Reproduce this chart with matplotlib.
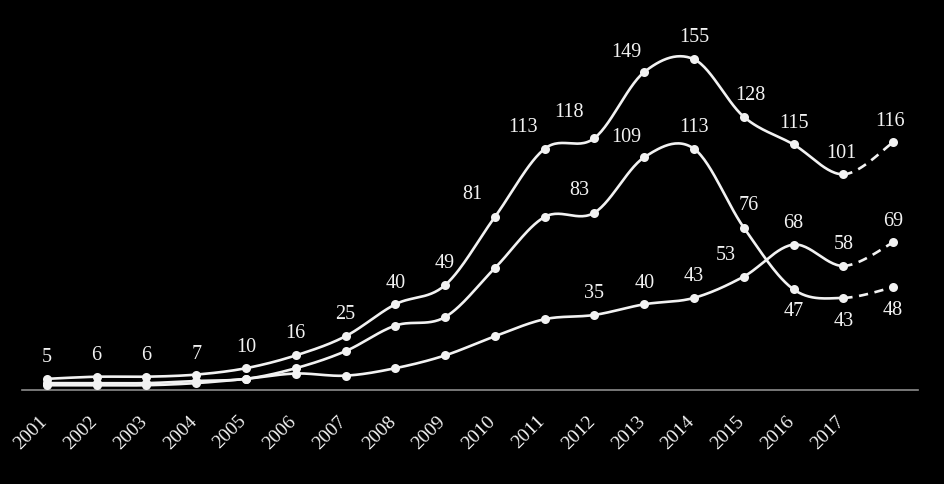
import numpy as np
import matplotlib
matplotlib.use('Agg')
import matplotlib.pyplot as plt
import matplotlib.transforms as mtransforms

# Données (2001 -> 2018, dernière année sans étiquette)
annees = list(range(2001, 2019))
etiquettes_x = [str(a) for a in range(2001, 2018)]

serie_haut = [5, 6, 6, 7, 10, 16, 25, 40, 49, 81, 113, 118, 149, 155, 128, 115, 101, 116]
serie_milieu = [3, 3, 3, 4, 5, 10, 18, 30, 34, 57, 81, 83, 109, 113, 76, 47, 43, 48]
serie_bas = [2, 2, 2, 3, 5, 7.5, 6.5, 10, 16, 25, 33, 35, 40, 43, 53, 68, 58, 69]

# indices des points étiquetés pour les deux séries du bas
etiq_milieu = [11, 12, 13, 14, 15, 16, 17]
etiq_bas = [11, 12, 13, 14, 15, 16, 17]

BLANC = '#f2f2f2'
plt.rcParams['font.family'] = ['Liberation Serif', 'DejaVu Serif']


# Courbe lissée (style tableur) : bezier cubique type Catmull-Rom
def lisser(x, y, n=30):
    x = np.asarray(x, float)
    y = np.asarray(y, float)
    morceaux = []
    for i in range(len(x) - 1):
        p0 = np.array([x[max(i - 1, 0)], y[max(i - 1, 0)]])
        p1 = np.array([x[i], y[i]])
        p2 = np.array([x[i + 1], y[i + 1]])
        p3 = np.array([x[min(i + 2, len(x) - 1)], y[min(i + 2, len(x) - 1)]])
        c1 = p1 + (p2 - p0) / 6
        c2 = p2 - (p3 - p1) / 6
        t = np.linspace(0, 1, n)[:, None]
        pts = (1 - t) ** 3 * p1 + 3 * (1 - t) ** 2 * t * c1 + 3 * (1 - t) * t ** 2 * c2 + t ** 3 * p2
        morceaux.append(pts)
    return morceaux


def tracer_serie(ax, valeurs):
    x = np.arange(len(valeurs))
    morceaux = lisser(x, valeurs)
    plein = np.vstack(morceaux[:-1])
    ax.plot(plein[:, 0], plein[:, 1], color=BLANC, lw=1.9, solid_capstyle='round', zorder=2)
    ax.plot(morceaux[-1][:, 0], morceaux[-1][:, 1], color=BLANC, lw=1.9,
            dashes=(3.5, 2.5), zorder=2)
    ax.plot(x, valeurs, 'o', color=BLANC, ms=6.5, mec='none', zorder=3)


def etiquette(ax, i, v, dx=0, dy=22):
    ax.annotate(str(int(round(v))), (i, v), xytext=(dx, dy), textcoords='offset pixels',
                ha='center', va='center', fontsize=14.5, color=BLANC)


fig = plt.figure(figsize=(9.44, 4.85), dpi=100, facecolor='black')
ax = fig.add_axes([22 / 944, (485 - 390.5) / 485, 896 / 944, 383.5 / 485])
ax.set_facecolor('black')

for s in [serie_bas, serie_milieu, serie_haut]:
    tracer_serie(ax, s)

# étiquettes série du haut (toutes)
dx_haut = [0, 0, 0, 0, 0, 0, 0, 0, 0, -23, -22, -25, -18, 0, 7, 0, -2, -3]
dy_haut = [22, 22, 22, 21, 22, 23, 23, 22, 23, 23, 22, 27, 21, 23, 22, 22, 22, 22]
for i, v in enumerate(serie_haut):
    etiquette(ax, i, v, dx_haut[i], dy_haut[i])

# série du milieu : 83, 109, 113, 76 au-dessus ; 47, 43, 48 en dessous
dx_milieu = {11: -15, 12: -18, 13: 0, 14: 5, 15: 0, 16: 0, 17: 0}
dy_milieu = {11: 23, 12: 21, 13: 22, 14: 23, 15: -21, 16: -23, 17: -22}
for i in etiq_milieu:
    etiquette(ax, i, serie_milieu[i], dx_milieu[i], dy_milieu[i])

dx_bas = {11: 0, 12: 0, 13: 0, 14: -18, 15: 0, 16: 0, 17: 0}
for i in etiq_bas:
    etiquette(ax, i, serie_bas[i], dx_bas[i], 22)

ax.set_xlim(-0.5, 17.5)
ax.set_ylim(0, 180)
for cote in ['top', 'right', 'left']:
    ax.spines[cote].set_visible(False)
ax.spines['bottom'].set_color('#8c8c8c')
ax.spines['bottom'].set_linewidth(1.2)
ax.set_yticks([])
ax.set_xticks(range(len(etiquettes_x)))
ax.set_xticklabels(etiquettes_x, rotation=45, ha='right', va='top', fontsize=14, color=BLANC)
ax.tick_params(axis='x', length=0, pad=16)
decalage = mtransforms.ScaledTranslation(4 / 100, 0, fig.dpi_scale_trans)
for lab in ax.get_xticklabels():
    lab.set_transform(lab.get_transform() + decalage)

fig.savefig('out.png', dpi=100, facecolor='black')
